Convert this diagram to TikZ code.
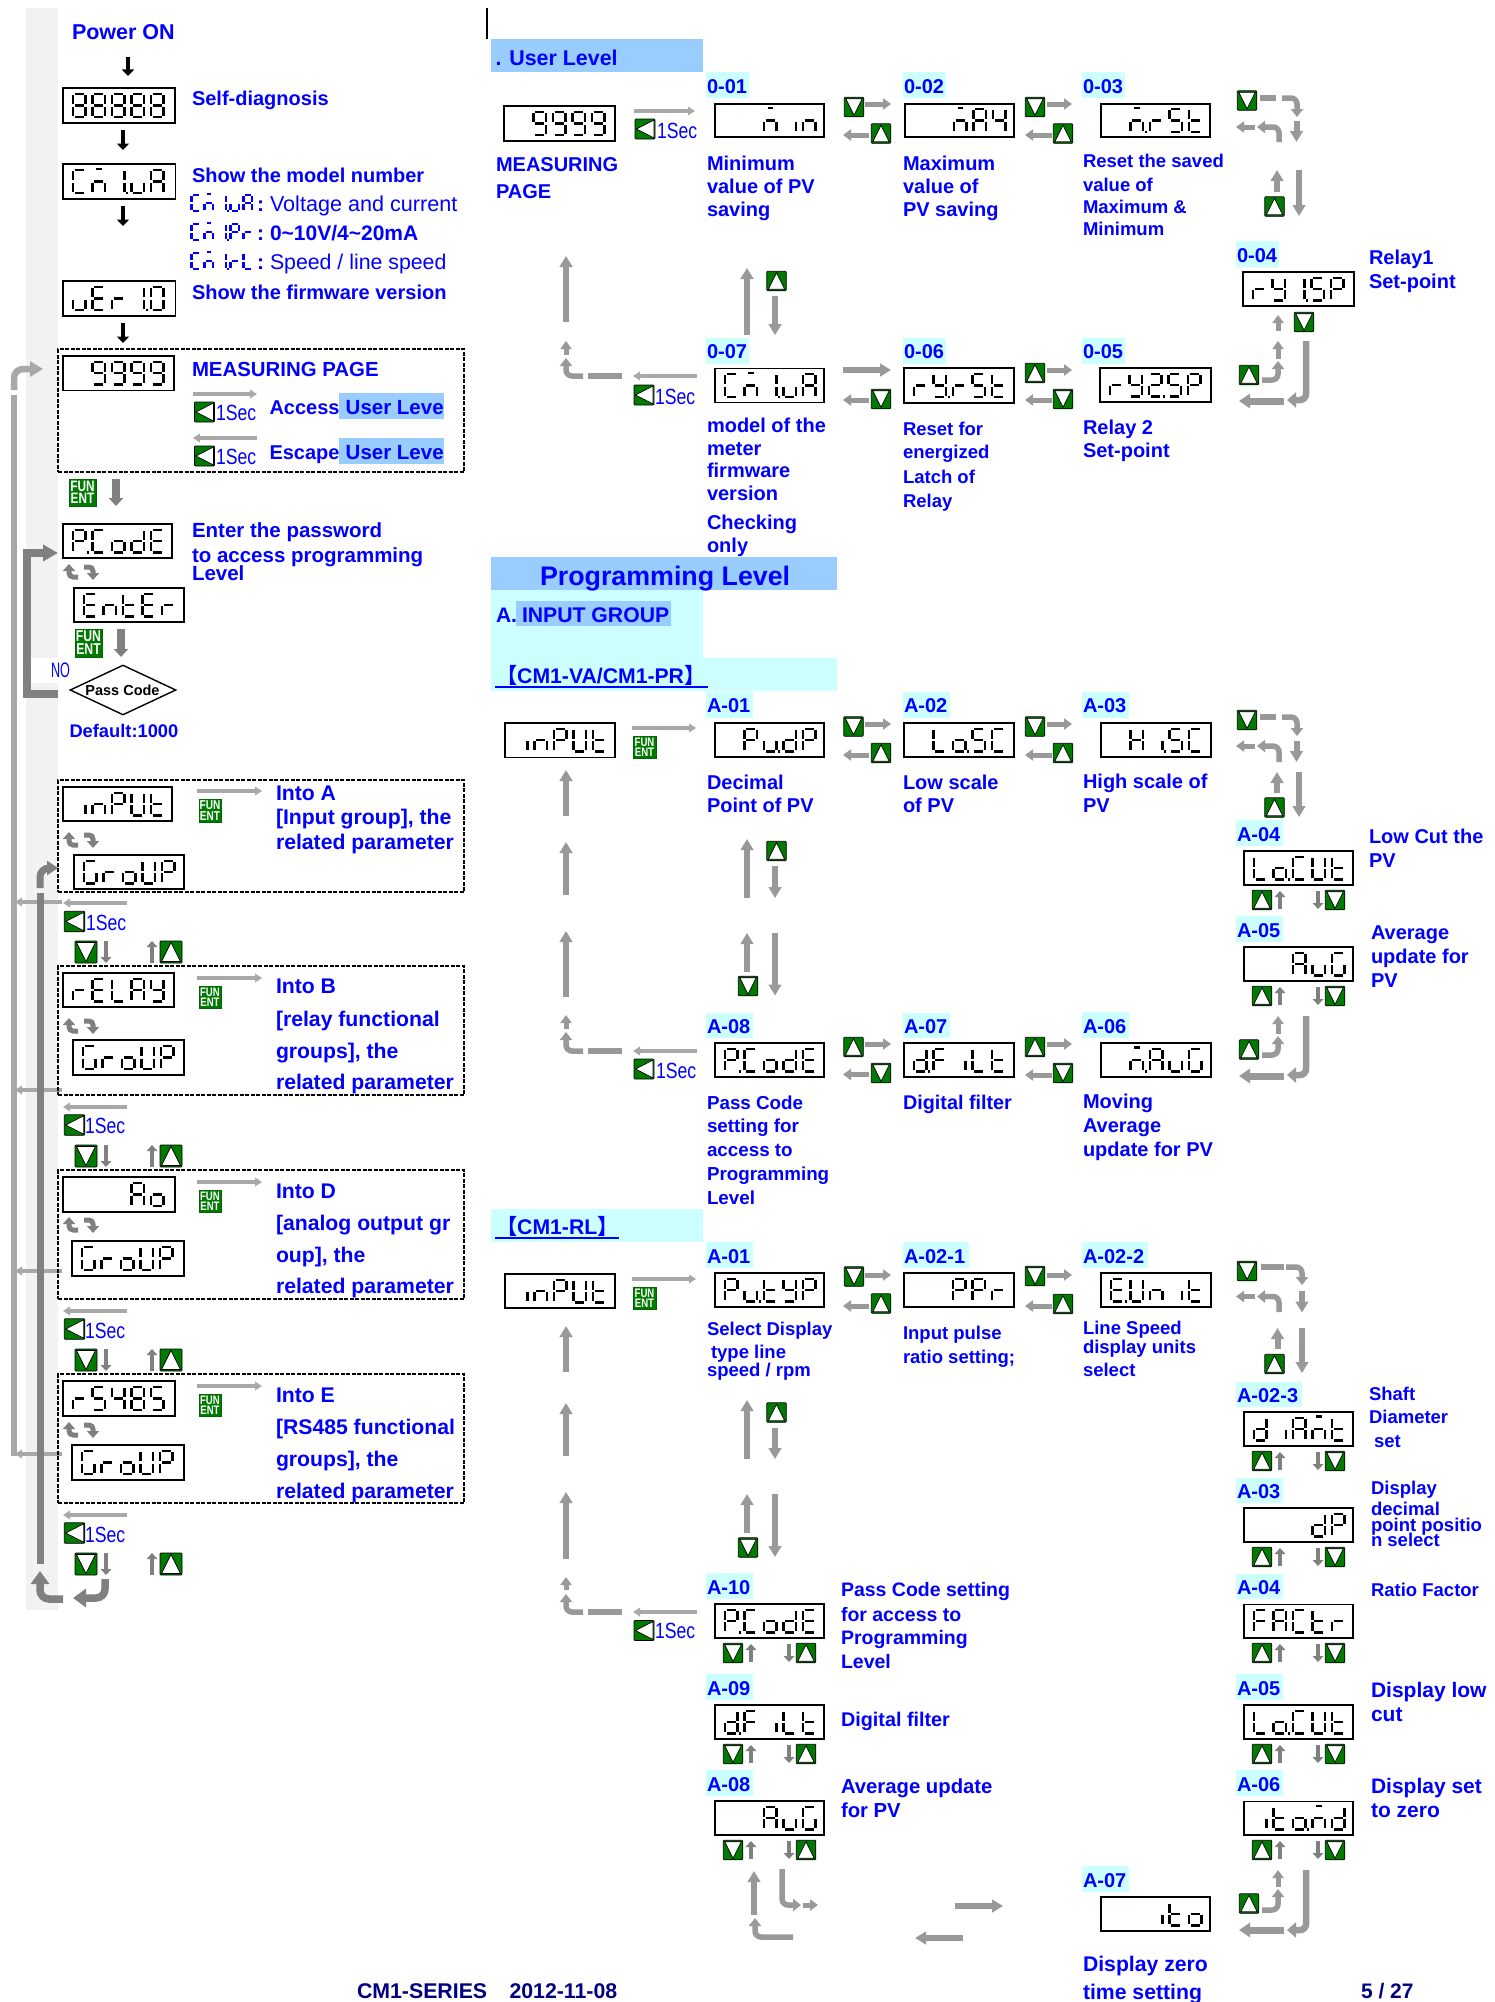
\documentclass[tikz,border=0pt]{standalone}
\usepackage{fontspec}
\setmainfont{Liberation Sans}
\newfontfamily\cjk{Noto Sans CJK SC}
\usetikzlibrary{arrows.meta,shapes.geometric}
\definecolor{bl}{HTML}{0000FF}
\definecolor{navy}{HTML}{000080}
\definecolor{hl}{HTML}{99CCFF}
\definecolor{cy}{HTML}{CCFFFF}
\definecolor{band}{HTML}{F2F2F2}
\definecolor{btng}{HTML}{007A00}
\definecolor{gm}{HTML}{999999}
\definecolor{gd}{HTML}{808080}
\definecolor{gl}{HTML}{A8A8A8}
\newcounter{nn}
\tikzset{
  x=1pt,y=-1pt,
  txt/.style={anchor=base west,inner sep=0pt,outer sep=0pt,text=bl},
  lcdbox/.style={draw=black,line width=1.3pt,fill=white,inner sep=0pt,outer sep=0pt,text opacity=0,font=\fontsize{12pt}{12pt}\selectfont},
  segline/.style={line width=\seglw pt},
  btnbox/.style={draw=black,line width=.7pt,fill=btng,inner sep=0pt,outer sep=0pt,rounded corners=.8pt},
  ftbox/.style={fill=btng,draw=black!60!green,line width=.5pt,inner sep=0pt,outer sep=0pt,text=white,align=center},
  dashbox/.style={draw=black,line width=2pt,dash pattern=on 4pt off 1.5pt},
  fatar/.style={draw=gm,line width=6pt,-{Triangle[length=11pt,width=12.5pt,color=gm]}},
  midar/.style={draw=gm,line width=5pt,-{Triangle[length=8pt,width=11pt,color=gm]}},
  litear/.style={draw=gl,line width=3.8pt,-{Triangle[length=7pt,width=8.5pt,color=gl]}},
  rowar/.style={draw=gd,line width=4.5pt,-{Triangle[length=6pt,width=10.5pt,color=gd]}},
  blkar/.style={draw=black,line width=4.5pt,-{Triangle[length=6.5pt,width=12pt,color=black]}},
  bigar/.style={draw=gd,line width=7.5pt,-{Triangle[length=8pt,width=14pt,color=gd]}},
  curlar/.style={draw=gd,line width=5pt,rounded corners=4pt,-{Triangle[length=7pt,width=12pt,color=gd]}},
  bentar/.style={draw=gm,line width=5.5pt,rounded corners=6pt,-{Triangle[length=8pt,width=12pt,color=gm]}},
  bentfat/.style={draw=gm,line width=6.5pt,rounded corners=6pt,-{Triangle[length=9pt,width=15pt,color=gm]}},
  barln/.style={draw=gm,line width=6.5pt},
}
% glyph table
\def\defg#1#2{\expandafter\def\csname Gl:#1\endcsname{#2}\expandafter\def\csname Gl:#1.\endcsname{#2p}}
\defg{-}{}\defg{0}{abcdef}\defg{1}{bc}\defg{2}{abged}\defg{4}{fgbc}\defg{5}{afgcd}\defg{8}{abcdefg}\defg{9}{abcdfg}
\defg{A}{abcefg}\defg{C}{adef}\defg{d}{bcdeg}\defg{E}{adefg}\defg{F}{aefg}\defg{G}{acdef}\defg{H}{bcefg}
\defg{i}{c}\defg{L}{def}\defg{m}{qceg}\defg{n}{ceg}\defg{o}{cdeg}\defg{P}{abefg}\defg{r}{eg}\defg{t}{defg}
\defg{U}{bcdef}\defg{u}{cde}\defg{Y}{bcdfg}
\def\Sa{(1.6,0)--(10.9,0)}\def\Sb{(12.5,1.2)--(12.5,10.1)}\def\Sc{(12.5,12.5)--(12.5,21.4)}
\def\Sd{(1.6,22.6)--(10.9,22.6)}\def\Se{(0,12.5)--(0,21.4)}\def\Sf{(0,1.2)--(0,10.1)}\def\Sg{(1.6,11.3)--(10.9,11.3)}
\def\Sp{(15.2,21.4)--(15.2,23.8)}\def\Sq{(3.5,-1.2)--(9,-1.2)}
\def\segloop#1{\ifx#1\relax\else\draw[segline] \csname S#1\endcsname;\expandafter\segloop\fi}
% \segcells{x}{ytop}{pitch}{scale}{colour}{list}
\def\segcells#1#2#3#4#5#6{\pgfmathsetmacro\seglw{1.57+.83*#4}\foreach \g [count=\ci from 0] in {#6}{%
  \begin{scope}[shift={({#1+\ci*#3},{#2})},scale=#4,draw=#5]
    \edef\gs{\csname Gl:\g\endcsname}\expandafter\segloop\gs\relax
  \end{scope}}}
\def\lcd#1#2#3#4#5#6{\stepcounter{nn}%
  \node[lcdbox,minimum width={(#3-#1)*1pt},minimum height={(#4-#2)*1pt}] (lcd\thenn) at ({(#1+#3)/2},{(#2+#4)/2}) {#6};%
  \segcells{#1+10}{(#2+#4)/2-11.3}{19.5}{1}{black}{#5}}
\def\tb#1#2#3#4{\stepcounter{nn}\node[txt,font=\bfseries\fontsize{#1pt}{#1pt}\selectfont] (t\thenn) at (#2,#3) {#4};}
\def\tr#1#2#3#4{\stepcounter{nn}\node[txt,font=\fontsize{#1pt}{#1pt}\selectfont] (t\thenn) at (#2,#3) {#4};}
\def\secs#1#2{\stepcounter{nn}\node[txt,font=\fontsize{22pt}{22pt}\selectfont] (t\thenn) at (#1,#2) {\scalebox{.8}[1]{1Sec}};}
\def\chip#1#2#3#4#5#6{\fill[cy] (#1,#2) rectangle (#3,#4);\tb{20}{#1+1}{#5}{#6}}
\def\btnl#1#2#3{\stepcounter{nn}\node[btnbox,minimum size=#3*1pt] (b\thenn) at (#1,#2) {};
  \filldraw[fill=white,draw=black,line width=.7pt] ({#1-#3/2+1.5},#2) -- ({#1+#3/2-1},{#2-#3/2+1}) -- ({#1+#3/2-1},{#2+#3/2-1}) -- cycle;}
\def\btnd#1#2#3{\stepcounter{nn}\node[btnbox,minimum size=#3*1pt] (b\thenn) at (#1,#2) {};
  \filldraw[fill=white,draw=black,line width=.7pt] (#1,{#2+#3/2-1.5}) -- ({#1-#3/2+1.5},{#2-#3/2+1.5}) -- ({#1+#3/2-1.5},{#2-#3/2+1.5}) -- cycle;}
\def\btnu#1#2#3{\stepcounter{nn}\node[btnbox,minimum size=#3*1pt] (b\thenn) at (#1,#2) {};
  \filldraw[fill=white,draw=black,line width=.7pt] (#1,{#2-#3/2+1.5}) -- ({#1-#3/2+1.5},{#2+#3/2-1.5}) -- ({#1+#3/2-1.5},{#2+#3/2-1.5}) -- cycle;}
\def\fe#1#2#3#4{\stepcounter{nn}\pgfmathsetmacro\fs{(#4-#2)*.56}\pgfmathsetmacro\fl{(#4-#2)*.46}%
  \node[ftbox,font=\bfseries\fontsize{\fs pt}{\fl pt}\selectfont,minimum width={(#3-#1)*1pt},minimum height={(#4-#2)*1pt}] (f\thenn) at ({(#1+#3)/2},{(#2+#4)/2}) {\scalebox{.78}[1]{FUN}\\\scalebox{.78}[1]{ENT}};}
\def\arr#1#2#3#4#5{\stepcounter{nn}\coordinate (p\thenn) at (#2,#3);\coordinate (q\thenn) at (#4,#5);\draw[#1] (p\thenn) -- (q\thenn);}
\def\bent#1#2#3#4#5#6#7{\stepcounter{nn}\coordinate (p\thenn) at (#2,#3);\coordinate (m\thenn) at (#4,#5);\coordinate (q\thenn) at (#6,#7);\draw[#1] (p\thenn) -- (m\thenn) -- (q\thenn);}
% repeated button rows
\def\rowR#1{\btnu{1262}{#1}{19.5}\arr{rowar}{1280}{#1+9}{1280}{#1-9}\arr{rowar}{1318}{#1-9}{1318}{#1+9}\btnd{1335}{#1}{19.5}}
\def\rowC#1{\btnd{733}{#1}{19.5}\arr{rowar}{751}{#1+9}{751}{#1-9}\arr{rowar}{789}{#1-9}{789}{#1+9}\btnu{806}{#1}{19.5}}
\def\rowL#1{\btnd{86}{#1}{22}\arr{rowar}{106}{#1-11}{106}{#1+11}\arr{rowar}{152}{#1+11}{152}{#1-11}\btnu{171}{#1}{22}}
\def\curls#1{\bent{curlar}{78}{#1+13}{69}{#1+13}{69}{#1}\bent{curlar}{84}{#1+3}{93}{#1+3}{93}{#1+16}}
\begin{document}
\begin{tikzpicture}
\useasboundingbox (0,0) rectangle (1494,2002);
\fill[white] (0,0) rectangle (1494,2002);
% ---- left band
\fill[band] (26,8) rectangle (58,1610);
\fill[white] (30,658) rectangle (58,683);
% ---- highlights
\fill[hl] (491,39) rectangle (703,72);
\fill[hl] (491,557) rectangle (837,590);
\fill[cy] (491,590) rectangle (703,691);
\fill[cy] (703,658) rectangle (837,691);
\fill[hl] (516,601) rectangle (671,626);
\fill[cy] (491,1209) rectangle (703,1242);
\fill[hl] (339,393) rectangle (444,419);
\fill[hl] (339,438) rectangle (444,464);
\coordinate (vtop) at (487,8);\coordinate (vbot) at (487,39);
\draw[black,line width=2pt] (vtop) -- (vbot);
% ---- left column texts
\tb{21.5}{72}{40}{Power ON}
\arr{blkar}{128}{57}{128}{76}
\lcd{63}{88}{175}{123}{8,8,8,8,8}{88888}
\tb{20}{192}{105}{Self-diagnosis}
\arr{blkar}{123}{130}{123}{150}
\lcd{63}{164}{175.5}{199}{C,m,1.,u,A}{CM1.uA}
\tb{20}{192}{182}{Show the model number}
\segcells{191.5}{195}{13}{.7}{bl}{C,m,1.,u,A}
\tb{21}{257}{211}{:}
\tr{21.6}{270}{211}{Voltage and current}
\arr{blkar}{123}{206}{123}{226}
\segcells{191.5}{224}{13}{.7}{bl}{C,m,1.,P,r}
\tb{21}{257}{240}{:}
\tb{21}{270}{240}{0\textasciitilde 10V/4\textasciitilde 20mA}
\segcells{191.5}{253}{13}{.7}{bl}{C,m,1.,r,L}
\tb{21}{257}{269}{:}
\tr{21.3}{270}{269}{Speed / line speed}
\lcd{63}{281}{175.5}{316}{u,E,r,1.,0}{uEr 1.0}
\tb{20}{192}{299}{Show the firmware version}
\arr{blkar}{123}{323}{123}{343}
% measuring page
\node[dashbox,minimum width=406pt,minimum height=123pt,inner sep=0pt] (dm) at (261,410.5) {};
\lcd{63}{356}{174}{390.5}{-,9,9,9,9}{9999}
\tb{20.4}{192}{376}{MEASURING PAGE}
\arr{litear}{193}{394}{257}{394}
\btnl{204.5}{412}{20}\secs{216}{420}
\tb{20}{269.5}{414}{Access}\tb{20.5}{345.7}{414}{User Leve}
\arr{litear}{257}{438}{193}{438}
\btnl{204.5}{456}{20}\secs{216}{464}
\tb{20}{269.5}{459}{Escape}\tb{20.5}{345.7}{459}{User Leve}
\fe{69}{479}{96}{506}
\arr{bigar}{116}{479}{116}{506}
\lcd{63}{524}{172}{558}{P.,C,o,d,E}{P.CodE}
\tb{20.5}{192}{537}{Enter the password}
\tb{20.5}{192}{562}{to access programming}
\tb{20.5}{192}{580}{Level}
\curls{564}
\lcd{74}{588}{184}{622}{E,n,t,E,r}{EntEr}
\fe{75}{629}{102}{657}
\arr{bigar}{121}{629}{121}{657}
\stepcounter{nn}\node[txt,font=\fontsize{21pt}{21pt}\selectfont] (t\thenn) at (51,677) {\scalebox{.6}[1]{NO}};
% pass code diamond
\node[diamond,draw=black,line width=1.4pt,minimum width=106pt,minimum height=50pt,inner sep=0pt,aspect=2.12] (pc) at (123,690) {};
\stepcounter{nn}\node[anchor=base,inner sep=1pt,fill=white,font=\bfseries\fontsize{14.5pt}{14.5pt}\selectfont] (pct) at (122.5,695) {Pass Code};
\tb{18.3}{69.5}{737}{Default:1000}
\coordinate (fb1) at (58,694);\coordinate (fb2) at (27,694);\coordinate (fb3) at (27,553);\coordinate (fb4) at (58,553);
\draw[draw=gd,line width=7.5pt,-{Triangle[length=15pt,width=16pt,color=gd]}] (fb1) -- (fb2) -- (fb3) -- (fb4);
% light return line
\coordinate (lr1) at (14,1456);\coordinate (lr2) at (14,395);
\draw[draw=gl,line width=6.5pt] (lr1) -- (lr2);
\bent{draw=gl,line width=6.5pt,rounded corners=9pt,-{Triangle[length=13pt,width=15pt,color=gl]}}{14}{390}{14}{369}{43}{369}
\arr{draw=gl,line width=3.8pt,-{Triangle[length=7pt,width=8.5pt,color=gl]}}{62}{902}{15}{902}
\arr{draw=gl,line width=3.8pt,-{Triangle[length=7pt,width=8.5pt,color=gl]}}{62}{1090}{15}{1090}
\arr{draw=gl,line width=3.8pt,-{Triangle[length=7pt,width=8.5pt,color=gl]}}{62}{1271}{15}{1271}
\arr{draw=gl,line width=3.8pt,-{Triangle[length=7pt,width=8.5pt,color=gl]}}{62}{1454}{15}{1454}
% dark return line
\arr{draw=gd,line width=7pt}{40}{1564}{40}{893}
\bent{draw=gd,line width=7pt,rounded corners=9pt,-{Triangle[length=11pt,width=14pt,color=gd]}}{40}{888}{40}{868}{58}{868}
\bent{draw=gd,line width=7.5pt,rounded corners=9pt,-{Triangle[length=13pt,width=18pt,color=gd]}}{63}{1599}{40}{1599}{40}{1571}
\bent{draw=gd,line width=7.5pt,rounded corners=9pt,-{Triangle[length=13pt,width=18pt,color=gd]}}{105}{1579}{105}{1598}{73}{1598}
% group boxes
\node[dashbox,minimum width=406pt,minimum height=112pt,inner sep=0pt] (d1) at (261,836) {};
\lcd{63}{787}{172}{821}{i,n,P,U,t}{inPUt}
\curls{832}
\lcd{74}{855}{184}{889}{G,r,o,U,P}{GroUP}
\arr{litear}{197}{791}{262}{791}\fe{199}{799}{221}{822}
\tb{21.2}{276}{800}{Into A}\tb{21.2}{276}{824}{[Input group], the}\tb{21.2}{276}{849}{related parameter}
\arr{litear}{127}{903}{63}{903}\btnl{74.5}{921.5}{20.5}\secs{86}{930}
\rowL{952}
\node[dashbox,minimum width=406pt,minimum height=129pt,inner sep=0pt] (d2) at (261,1030.5) {};
\lcd{63}{973}{174}{1007}{r,E,L,A,Y}{rELAY}
\curls{1018}
\lcd{73}{1040}{184}{1075}{G,r,o,U,P}{GroUP}
\arr{litear}{197}{978}{262}{978}\fe{199}{986}{221}{1008}
\tb{21.2}{276}{993}{Into B}\tb{21.2}{276}{1026}{[relay functional}\tb{21.2}{276}{1058}{groups], the}\tb{21.2}{276}{1089}{related parameter}
\arr{litear}{127}{1107}{63}{1107}\btnl{74.5}{1125}{20.5}\secs{85}{1133}
\rowL{1156}
\node[dashbox,minimum width=406pt,minimum height=129pt,inner sep=0pt] (d3) at (261,1234.5) {};
\lcd{63}{1177}{175}{1212}{-,-,-,A,o}{Ao}
\curls{1217}
\lcd{72}{1241}{184}{1276}{G,r,o,U,P}{GroUP}
\arr{litear}{197}{1182}{262}{1182}\fe{199}{1190}{221}{1212}
\tb{21.2}{276}{1198}{Into D}\tb{21.2}{276}{1230}{[analog output gr}\tb{21.2}{276}{1262}{oup], the}\tb{21.2}{276}{1293}{related parameter}
\arr{litear}{127}{1311}{63}{1311}\btnl{74.5}{1329}{20.5}\secs{85}{1338}
\rowL{1360}
\node[dashbox,minimum width=406pt,minimum height=129pt,inner sep=0pt] (d4) at (261,1438.5) {};
\lcd{63}{1381}{175}{1416}{r,5,4,8,5}{r5485}
\curls{1422}
\lcd{72}{1445}{184}{1480}{G,r,o,U,P}{GroUP}
\arr{litear}{197}{1386}{262}{1386}\fe{199}{1394}{221}{1416}
\tb{21.2}{276}{1402}{Into E}\tb{21.2}{276}{1434}{[RS485 functional}\tb{21.2}{276}{1466}{groups], the}\tb{21.2}{276}{1498}{related parameter}
\arr{litear}{127}{1515}{63}{1515}\btnl{74.5}{1533}{20.5}\secs{85}{1542}
\rowL{1564}
% ---- USER LEVEL
\tb{21.4}{495.5}{66}{. User Level}
\lcd{504}{106}{615}{141}{-,9,9,9,9}{9999}
\tb{20}{496}{171}{MEASURING}\tb{20}{496}{198}{PAGE}
\arr{litear}{634}{111}{695}{111}\btnl{645}{129}{20}\secs{657}{138}
\chip{706}{72}{749}{97.5}{93.5}{0-01}\chip{903}{72}{946}{97.5}{93.5}{0-02}\chip{1082}{72}{1125}{98}{93.5}{0-03}
\lcd{715}{104}{824}{137}{-,-,m,i,n}{min}
\lcd{905}{104}{1014}{137}{-,-,m,A,4}{mA4}
\lcd{1101}{104}{1210}{137}{-,m.,r,5,t}{m.r5t}
\tb{20}{707}{170}{Minimum}\tb{20}{707}{193}{value of PV}\tb{20}{707}{216}{saving}
\tb{20}{903}{170}{Maximum}\tb{20}{903}{193}{value of}\tb{20}{903}{216}{PV saving}
\tb{18.5}{1083}{167}{Reset the saved}\tb{18.5}{1083}{191}{value of}\tb{18.5}{1083}{213}{Maximum \&}\tb{18.5}{1083}{235}{Minimum}
\btnd{854}{107}{19.5}\arr{midar}{865}{104}{891}{104}\btnu{881}{133.5}{19.5}\arr{midar}{869}{135}{843}{135}
\btnd{1035}{107}{19.5}\arr{midar}{1047}{104}{1072}{104}\btnu{1063}{133.5}{19.5}\arr{midar}{1052}{135}{1025}{135}
% right loop top
\btnd{1247}{100.5}{19.5}\arr{barln}{1260}{98}{1276}{98}
\bent{bentar}{1282}{98}{1297}{98}{1297}{117}
\arr{fatar}{1296.5}{121}{1296.5}{142}
\arr{midar}{1255}{127}{1236}{127}
\bent{bentar}{1279}{142}{1279}{127}{1257}{127}
\arr{fatar}{1277}{192}{1277}{170}\btnu{1274.5}{206.5}{19.5}\arr{fatar}{1299}{170}{1299}{216}
\chip{1236}{241}{1279}{267}{262}{0-04}
\lcd{1243}{272}{1354}{306}{r,Y,1.,5,P}{rY1.5P}
\tb{20}{1369}{264}{Relay1}\tb{20}{1369}{288}{Set-point}
\arr{midar}{1278}{331}{1278}{315}\btnd{1304}{322}{19.5}
\arr{midar}{1278}{359}{1278}{341}
\bent{bentar}{1262}{380}{1278}{380}{1278}{361}
\btnu{1249}{375}{19.5}
\bent{bentfat}{1306}{341}{1306}{400}{1287}{400}
\arr{draw=gm,line width=7pt,-{Triangle[length=11pt,width=14pt,color=gm]}}{1284}{401}{1239}{401}
% bottom row user level
\chip{706}{338}{749}{363.5}{358}{0-07}\chip{903}{338}{946}{363.5}{358}{0-06}\chip{1082}{338}{1125}{364}{358}{0-05}
\lcd{715}{368.5}{824}{402.5}{C,m,1.,u,A}{CM1.uA}
\lcd{904}{368}{1014}{403}{r,Y.,r,5,t}{rY.r5t}
\lcd{1100}{368}{1211}{402}{r,Y,2.,5,P}{rY2.5P}
\arr{fatar}{843}{370}{891}{370}\arr{midar}{869}{400}{843}{400}\btnd{881}{399}{19.5}
\btnu{1035}{373}{19.5}\arr{midar}{1047}{370}{1072}{370}\arr{midar}{1052}{400}{1025}{400}\btnd{1063}{399}{19.5}
\tb{20}{707}{432}{model of the}\tb{20}{707}{455}{meter}\tb{20}{707}{477}{firmware}\tb{20}{707}{500}{version}\tb{20}{707}{529}{Checking}\tb{20}{707}{552}{only}
\tb{18.5}{903}{435}{Reset for}\tb{18.5}{903}{458.5}{energized}\tb{18.5}{903}{483}{Latch of}\tb{18.5}{903}{507}{Relay}
\tb{20}{1083}{434}{Relay 2}\tb{20}{1083}{457}{Set-point}
\arr{fatar}{566}{322}{566}{256}\arr{midar}{566}{355}{566}{341}
\bent{bentar}{583}{376}{566}{376}{566}{358}
\arr{barln}{588}{376}{622}{376}
\arr{litear}{697}{376}{633}{376}\btnl{644}{395}{20}\secs{655}{404}
\arr{fatar}{747}{335}{747}{268}\btnu{776.5}{281}{19.5}\arr{fatar}{775}{296}{775}{335}
% ---- PROGRAMMING LEVEL
\tb{26.8}{540}{585}{Programming Level}
\tb{21}{496}{622}{A.}\tb{21.2}{522}{622}{INPUT GROUP}
\tb{21.2}{496}{683}{{\cjk 【}CM1-VA/CM1-PR{\cjk 】}}
\coordinate (u1a) at (495,687);\coordinate (u1b) at (708,687);\draw[bl,line width=1.6pt] (u1a) -- (u1b);
\chip{706}{692}{753}{718}{712.5}{A-01}\chip{903}{692}{950}{718}{712.5}{A-02}\chip{1082}{692}{1129}{718}{712.5}{A-03}
\lcd{505}{723}{615}{757.5}{i,n,P,U,t}{inPUt}
\arr{litear}{632}{728}{696}{728}\fe{633}{736}{656}{758}
\lcd{715}{723}{824}{757}{-,P,u.,d,P}{Pu.dP}
\lcd{904}{723}{1014}{757}{-,L,o.,5,C}{Lo.5C}
\lcd{1101}{723}{1211}{757}{-,H,i.,5,C}{Hi.5C}
\btnd{853.5}{726.5}{19.5}\arr{midar}{865}{724}{891}{724}\btnu{881}{753}{19.5}\arr{midar}{869}{755}{843}{755}
\btnd{1035}{726.5}{19.5}\arr{midar}{1047}{724}{1072}{724}\btnu{1063}{753}{19.5}\arr{midar}{1052}{755}{1025}{755}
\tb{20}{707}{789}{Decimal}\tb{20}{707}{812.5}{Point of PV}
\tb{20}{903}{789}{Low scale}\tb{20}{903}{812.5}{of PV}
\tb{20}{1083}{788}{High scale of}\tb{20}{1083}{812}{PV}
\arr{fatar}{566}{816}{566}{770}\arr{fatar}{566}{895}{566}{842}\arr{fatar}{566}{997}{566}{931}\arr{midar}{566}{1029}{566}{1015}
\bent{bentar}{583}{1051}{566}{1051}{566}{1032}
\arr{barln}{588}{1051}{622}{1051}
\arr{litear}{697}{1051}{633}{1051}\btnl{644}{1069}{20}\secs{656}{1078}
\arr{fatar}{747}{898}{747}{839}\btnu{776.5}{851}{19.5}\arr{fatar}{775}{866}{775}{898}
\arr{fatar}{747}{972}{747}{933}\btnd{748}{986}{19.5}\arr{fatar}{775}{933}{775}{995.5}
\btnd{1247}{720}{19.5}\arr{barln}{1260}{717}{1276}{717}
\bent{bentar}{1282}{717}{1297}{717}{1297}{736}
\arr{fatar}{1296.5}{741}{1296.5}{762}
\arr{midar}{1255}{746}{1236}{746}
\bent{bentar}{1279}{762}{1279}{746}{1257}{746}
\arr{fatar}{1277}{793}{1277}{772}\btnu{1274.5}{807.5}{19.5}\arr{fatar}{1299}{772}{1299}{817}
\chip{1236}{820}{1283}{846}{841}{A-04}
\lcd{1244}{851}{1353}{885}{L,o.,C,U,t}{Lo.CUt}
\rowR{900}
\tb{20}{1369}{843}{Low Cut the}\tb{20}{1369}{867}{PV}
\chip{1236}{916}{1283}{942}{937}{A-05}
\lcd{1244}{947}{1353}{981}{-,-,A,u,G}{AuG}
\rowR{996}
\tb{20}{1371}{939}{Average}\tb{20}{1371}{963}{update for}\tb{20}{1371}{987}{PV}
\arr{midar}{1278}{1034}{1278}{1016}
\bent{bentar}{1262}{1055}{1278}{1055}{1278}{1036}
\btnu{1249}{1049.5}{19.5}
\bent{bentfat}{1306}{1016}{1306}{1075}{1287}{1075}
\arr{draw=gm,line width=7pt,-{Triangle[length=11pt,width=14pt,color=gm]}}{1284}{1076}{1239}{1076}
\chip{706}{1012.5}{753}{1038}{1033}{A-08}\chip{903}{1012.5}{950}{1038}{1033}{A-07}\chip{1082}{1012}{1129}{1038}{1033}{A-06}
\lcd{715}{1043}{824}{1077}{P.,C,o,d,E}{P.CodE}
\lcd{904}{1043}{1014}{1077}{d.,F,i,L,t}{d.FiLt}
\lcd{1101}{1043}{1211}{1077}{-,m.,A,u,G}{m.AuG}
\btnu{853.5}{1047}{19.5}\arr{midar}{865}{1044}{891}{1044}\btnd{881}{1073}{19.5}\arr{midar}{869}{1074.5}{843}{1074.5}
\btnu{1035}{1047}{19.5}\arr{midar}{1047}{1044}{1072}{1044}\btnd{1063}{1073}{19.5}\arr{midar}{1052}{1075}{1025}{1075}
\tb{18.8}{707}{1109}{Pass Code}\tb{18.8}{707}{1132.5}{setting for}\tb{18.8}{707}{1156}{access to}\tb{18.8}{707}{1180}{Programming}\tb{18.8}{707}{1204}{Level}
\tb{19.8}{903}{1109}{Digital filter}
\tb{20}{1083}{1108}{Moving}\tb{20}{1083}{1132}{Average}\tb{20}{1083}{1156}{update for PV}
% ---- CM1-RL
\tb{21.2}{496}{1234}{{\cjk 【}CM1-RL{\cjk 】}}
\coordinate (u2a) at (495,1238);\coordinate (u2b) at (619,1238);\draw[bl,line width=1.6pt] (u2a) -- (u2b);
\chip{706}{1242}{753}{1268}{1263}{A-01}\chip{903}{1242}{969}{1268}{1263}{A-02-1}\chip{1082}{1242}{1148}{1268}{1263}{A-02-2}
\lcd{505}{1274}{615}{1308}{i,n,P,U,t}{inPUt}
\arr{litear}{632}{1279}{696}{1279}\fe{633}{1287}{656}{1309}
\lcd{715}{1273}{824}{1307}{P,u.,t,Y,P}{Pu.tYP}
\lcd{904}{1273}{1014}{1307}{-,-,P,P,r}{PPr}
\lcd{1101}{1273}{1211}{1307}{E.,U,n,i,t}{E.Unit}
\btnd{854}{1276.5}{19.5}\arr{midar}{865}{1275}{891}{1275}\btnu{881}{1303.5}{19.5}\arr{midar}{869}{1306}{843}{1306}
\btnd{1035}{1276}{19.5}\arr{midar}{1047}{1275}{1072}{1275}\btnu{1063}{1304}{19.5}\arr{midar}{1052}{1306}{1025}{1306}
\tb{18.5}{707}{1335}{Select Display}\tb{18.5}{711}{1358}{type line}\tb{18.5}{707}{1376}{speed / rpm}
\tb{18.5}{903}{1339}{Input pulse}\tb{18.5}{903}{1363}{ratio setting;}
\tb{18.5}{1083}{1334}{Line Speed}\tb{18.5}{1083}{1353}{display units}\tb{18.5}{1083}{1376}{select}
\btnd{1247}{1271}{19.5}\arr{barln}{1261}{1267}{1284}{1267}
\bent{bentar}{1286}{1267}{1302}{1267}{1302}{1285}
\arr{fatar}{1302}{1291}{1302}{1312.5}
\arr{midar}{1255}{1296.5}{1236}{1296.5}
\bent{bentar}{1279}{1312}{1279}{1296.5}{1257}{1296.5}
\arr{fatar}{1277.5}{1349}{1277.5}{1328}\btnu{1274.5}{1364}{19.5}\arr{fatar}{1302}{1328}{1302}{1373}
\chip{1236}{1381.5}{1302}{1407}{1402}{A-02-3}
\lcd{1244}{1412}{1353}{1446}{d,i,A,m,t}{diAmt}
\rowR{1461}
\tb{18.5}{1369}{1400.5}{Shaft}\tb{18.5}{1369}{1423.6}{Diameter}\tb{18.5}{1374}{1447}{set}
\chip{1236}{1477.5}{1283}{1503}{1498}{A-03}
\lcd{1244}{1508}{1353}{1542}{-,-,-,d,P}{dP}
\rowR{1557}
\tb{18.5}{1371}{1494}{Display}\tb{18.5}{1371}{1515}{decimal}\tb{18.5}{1371}{1531}{point positio}\tb{18.5}{1371}{1546.5}{n select}
\chip{1236}{1573.5}{1283}{1599}{1594}{A-04}
\lcd{1244}{1604.5}{1353}{1638}{F,A,C,t,r}{FACtr}
\rowR{1653}
\tb{18.5}{1371}{1596}{Ratio Factor}
\chip{1236}{1674}{1283}{1700}{1695}{A-05}
\lcd{1244}{1705}{1353}{1739}{L,o.,C,U,t}{Lo.CUt}
\rowR{1754}
\tb{21}{1371}{1697}{Display low}\tb{21}{1371}{1721}{cut}
\chip{1236}{1770}{1283}{1796}{1791}{A-06}
\lcd{1244}{1801.5}{1353}{1835}{i,t,o.,m,d}{ito.md}
\rowR{1850}
\tb{21}{1371}{1793}{Display set}\tb{21}{1371}{1817.5}{to zero}
\arr{midar}{1278}{1887}{1278}{1870}
\bent{bentar}{1262}{1910}{1278}{1910}{1278}{1889}
\btnu{1249}{1903.5}{19.5}
\bent{bentfat}{1306}{1870}{1306}{1930}{1287}{1930}
\arr{draw=gm,line width=7pt,-{Triangle[length=11pt,width=14pt,color=gm]}}{1284}{1930}{1239}{1930}
\chip{1082}{1866}{1129}{1892}{1887}{A-07}
\lcd{1101}{1897}{1210}{1931}{-,-,i,t,o}{ito}
\tb{21.2}{1083}{1971}{Display zero}\tb{21.2}{1083}{1999}{time setting}
% left column of RL
\arr{fatar}{566}{1372}{566}{1326}\arr{fatar}{566}{1456}{566}{1403}\arr{fatar}{566}{1559}{566}{1492}\arr{midar}{566}{1590}{566}{1577}
\bent{bentar}{583}{1612}{566}{1612}{566}{1594}
\arr{barln}{588}{1612}{622}{1612}
\arr{litear}{697}{1612}{633}{1612}\btnl{644}{1630.5}{20}\secs{655}{1638}
\arr{fatar}{747}{1459}{747}{1400}\btnu{776.5}{1412.5}{19.5}\arr{fatar}{775}{1428}{775}{1459}
\arr{fatar}{747}{1533}{747}{1494}\btnd{748}{1547.5}{19.5}\arr{fatar}{775}{1494}{775}{1557}
\chip{706}{1573}{753}{1599}{1594}{A-10}
\lcd{715}{1604}{824}{1638}{P.,C,o,d,E}{P.CodE}
\rowC{1653}
\tb{19.5}{841}{1596}{Pass Code setting}\tb{19.5}{841}{1621}{for access to}\tb{19.5}{841}{1644}{Programming}\tb{19.5}{841}{1668}{Level}
\chip{706}{1674}{753}{1700}{1695}{A-09}
\lcd{715}{1705}{824}{1739}{d.,F,i,L,t}{d.FiLt}
\rowC{1754}
\tb{19.8}{841}{1726}{Digital filter}
\chip{706}{1770}{753}{1796}{1791}{A-08}
\lcd{715}{1801}{824}{1835}{-,-,A,u,G}{AuG}
\rowC{1850}
\tb{20.3}{841}{1793}{Average update}\tb{20.3}{841}{1817}{for PV}
\arr{fatar}{754}{1915}{754}{1871}
\bent{bentar}{782}{1869}{782}{1905}{801}{1905}
\arr{midar}{803}{1905}{818}{1905}
\bent{bentar}{793}{1937}{755}{1937}{755}{1918}
\arr{fatar}{955}{1906}{1003}{1906}
\arr{fatar}{963}{1938}{915}{1938}
% footer
\stepcounter{nn}\node[txt,text=navy,font=\bfseries\fontsize{21.3pt}{21.3pt}\selectfont] (t\thenn) at (357,1998) {CM1-SERIES};
\stepcounter{nn}\node[txt,text=navy,font=\bfseries\fontsize{21.3pt}{21.3pt}\selectfont] (t\thenn) at (509.5,1998) {2012-11-08};
\stepcounter{nn}\node[txt,text=navy,font=\bfseries\fontsize{21pt}{21pt}\selectfont] (t\thenn) at (1361,1998) {5 / 27};
\end{tikzpicture}
\end{document}
